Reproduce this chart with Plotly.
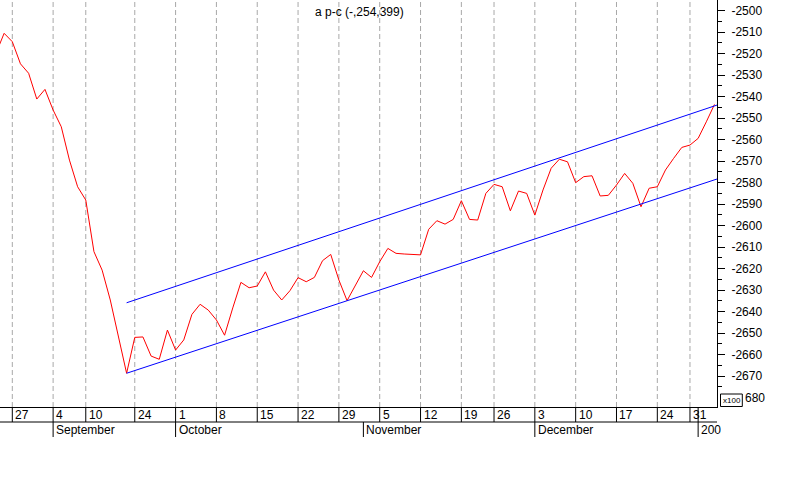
import pandas as pd
import plotly.graph_objects as go

# ---------------- data ----------------
holidays = ["2001-09-03", "2001-09-11", "2001-09-12", "2001-09-13", "2001-09-14",
            "2001-11-22", "2001-12-25", "2002-01-01"]
trading_days = [d.strftime("%Y-%m-%d") for d in pd.bdate_range("2001-08-23", "2002-01-04")
                if d.strftime("%Y-%m-%d") not in holidays]

values = [-2519.8, -2510.5, -2514.4, -2524.7, -2529.1, -2541.1, -2536.6, -2546.2, -2554.0, -2569.5,
          -2581.9, -2588.1, -2612.1, -2620.7, -2634.6, -2651.7, -2668.7, -2652.0, -2651.8, -2660.7,
          -2662.2, -2648.6, -2657.9, -2653.2, -2641.3, -2636.6, -2639.3, -2643.9, -2651.0, -2638.3,
          -2626.4, -2628.9, -2628.1, -2621.5, -2630.0, -2634.6, -2630.3, -2624.2, -2626.1, -2624.1,
          -2616.3, -2613.4, -2625.3, -2634.9, -2628.0, -2621.0, -2624.1, -2616.8, -2610.6, -2612.9,
          -2613.2, -2613.4, -2613.6, -2601.7, -2597.7, -2599.3, -2597.1, -2588.4, -2597.1, -2597.4,
          -2585.0, -2580.8, -2581.9, -2593.1, -2583.9, -2585.0, -2595.1, -2583.4, -2573.3, -2569.1,
          -2570.3, -2580.0, -2577.2, -2576.8, -2586.2, -2585.9, -2581.1, -2575.7, -2580.3, -2591.2,
          -2582.6, -2581.9, -2574.1, -2568.7, -2563.6, -2562.5, -2559.4, -2551.7, -2543.6]
assert len(values) == len(trading_days)

channel_dates = ["2001-09-21", "2002-01-04"]
channel_lower = [-2668.7, -2578.7]
channel_upper = [-2635.9, -2544.3]

week_ticks = ["2001-08-27", "2001-09-04", "2001-09-10", "2001-09-24", "2001-10-01", "2001-10-08",
              "2001-10-15", "2001-10-22", "2001-10-29", "2001-11-05", "2001-11-12", "2001-11-19",
              "2001-11-26", "2001-12-03", "2001-12-10", "2001-12-17", "2001-12-24", "2001-12-31"]
week_labels = ["27", "4", "10", "24", "1", "8", "15", "22", "29", "5", "12", "19", "26",
               "3", "10", "17", "24", "31"]
extra_separators = ["2002-01-02"]
month_starts = ["2001-09-04", "2001-10-01", "2001-11-01", "2001-12-03", "2002-01-02"]
month_labels = ["September", "October", "November", "December", "2002"]

y_tick_vals = list(range(-2500, -2671, -10))
y_tick_text = [str(v) for v in y_tick_vals]
y_minor_vals = list(range(-2505, -2680, -10))

title_text = "a p-c (-,254,399)"

# ---------------- helpers ----------------
pos = {d: i for i, d in enumerate(trading_days)}
xs = list(range(len(trading_days)))
X_MIN, X_MAX = 0.494, 88.31
Y_MIN, Y_MAX = -2684.4, -2495.0
PLOT_W = 717.0
PLOT_H = 407.0
FONT = "Liberation Sans, Arial, sans-serif"


def extend(dates, vals):
    x0, x1 = pos[dates[0]], pos[dates[1]]
    slope = (vals[1] - vals[0]) / (x1 - x0)
    return [x0, X_MAX], [vals[0], vals[0] + slope * (X_MAX - x0)]


fig = go.Figure()
fig.add_trace(go.Scatter(x=xs, y=values, mode="lines",
                         line=dict(color="#ff0000", width=1), hoverinfo="skip"))
for arr in (channel_lower, channel_upper):
    cx, cy = extend(channel_dates, arr)
    fig.add_trace(go.Scatter(x=cx, y=cy, mode="lines",
                             line=dict(color="#0000ff", width=1), hoverinfo="skip"))

shapes = []
annotations = []
band1 = -15.0 / PLOT_H
band2 = -30.0 / PLOT_H

for d, lab in zip(week_ticks, week_labels):
    shapes.append(dict(type="line", xref="x", yref="paper", x0=pos[d], x1=pos[d], y0=0, y1=1,
                       line=dict(color="#a8a8a8", width=1, dash="5px,3px"), layer="below"))
    shapes.append(dict(type="line", xref="x", yref="paper", x0=pos[d], x1=pos[d], y0=0, y1=band1,
                       line=dict(color="black", width=1)))
    annotations.append(dict(xref="x", yref="paper", x=pos[d], y=band1 / 2, text=lab,
                            showarrow=False, xanchor="left", yanchor="middle", xshift=1,
                            font=dict(family=FONT, size=12, color="black")))
for d in extra_separators:
    shapes.append(dict(type="line", xref="x", yref="paper", x0=pos[d], x1=pos[d], y0=0, y1=band1,
                       line=dict(color="black", width=1)))

shapes.append(dict(type="line", xref="paper", yref="paper", x0=0, x1=1, y0=band1, y1=band1,
                   line=dict(color="black", width=1)))

for d, lab in zip(month_starts, month_labels):
    shapes.append(dict(type="line", xref="x", yref="paper", x0=pos[d], x1=pos[d], y0=band1, y1=band2,
                       line=dict(color="black", width=1)))
    ann = dict(xref="x", yref="paper", x=pos[d], y=(band1 + band2) / 2, text=lab,
               showarrow=False, xanchor="left", yanchor="middle", xshift=1, align="left",
               font=dict(family=FONT, size=12, color="black"))
    if lab == "2002":
        ann["width"] = 20
    annotations.append(ann)

# x100 box and last label
shapes.append(dict(type="rect", xref="paper", yref="paper",
                   x0=720.5 / PLOT_W, x1=742.3 / PLOT_W, y0=(PLOT_H - 406.5) / PLOT_H, y1=(PLOT_H - 394) / PLOT_H,
                   line=dict(color="black", width=1), fillcolor="white"))
annotations.append(dict(xref="paper", yref="paper", x=731.5 / PLOT_W, y=(PLOT_H - 400.5) / PLOT_H,
                        text="x100", showarrow=False, xanchor="center", yanchor="middle",
                        font=dict(family=FONT, size=8, color="black")))
annotations.append(dict(xref="paper", yref="paper", x=742.5 / PLOT_W, y=(PLOT_H - 398) / PLOT_H,
                        text="680", showarrow=False, xanchor="left", yanchor="middle",
                        font=dict(family=FONT, size=12, color="black")))
annotations.append(dict(xref="paper", yref="paper", x=359.5 / PLOT_W, y=(PLOT_H - 12) / PLOT_H,
                        text=title_text, showarrow=False, xanchor="center", yanchor="middle",
                        font=dict(family=FONT, size=12, color="black")))

fig.update_layout(
    width=800, height=500,
    margin=dict(l=0, r=83, t=0, b=93, pad=0, autoexpand=False),
    paper_bgcolor="white", plot_bgcolor="white",
    showlegend=False,
    shapes=shapes, annotations=annotations,
    xaxis=dict(range=[X_MIN, X_MAX], showgrid=False, zeroline=False, showticklabels=False,
               ticks="", showline=True, linecolor="black", linewidth=1, fixedrange=True,
               automargin=False),
    yaxis=dict(range=[Y_MIN, Y_MAX], side="right", showgrid=False, zeroline=False,
               showline=True, linecolor="black", linewidth=1,
               tickmode="array", tickvals=y_tick_vals, ticktext=y_tick_text,
               ticks="outside", ticklen=7, tickcolor="black", tickwidth=1,
               ticklabelstandoff=4, automargin=False,
               tickfont=dict(family=FONT, size=12, color="black"),
               minor=dict(tickmode="array", tickvals=y_minor_vals, ticks="outside",
                          ticklen=4, tickcolor="black", tickwidth=1, showgrid=False),
               fixedrange=True),
)

fig.write_html("out.html", config={"displayModeBar": False},
               post_script="document.body.style.margin='0';document.body.style.overflow='hidden';")
